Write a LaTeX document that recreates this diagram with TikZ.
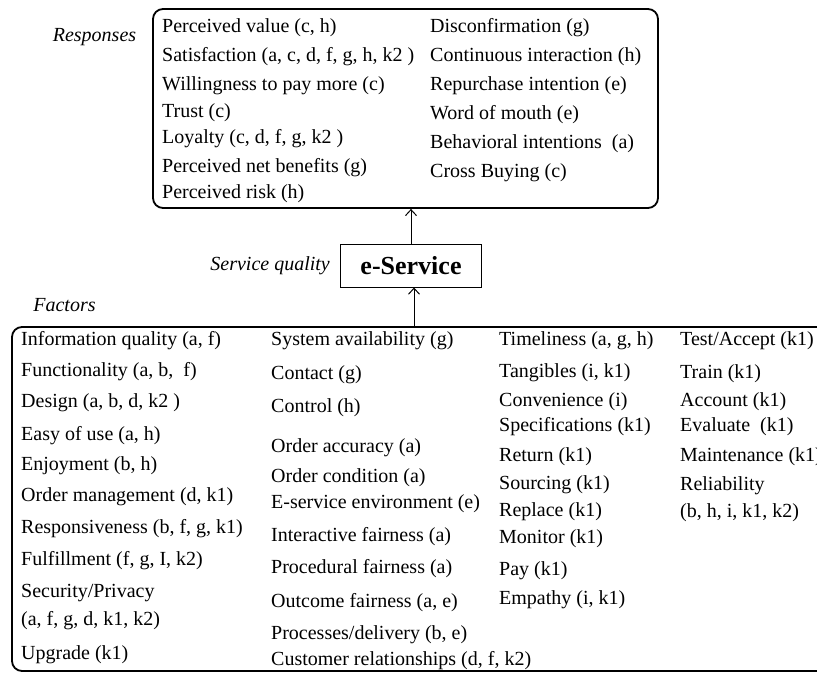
\documentclass[tikz,border=0pt]{standalone}
\usepackage{fontspec}
\setmainfont{Liberation Serif}
\usetikzlibrary{arrows.meta,positioning}
\tikzset{
  item/.style={anchor=west,inner sep=0pt,text height=14pt,text depth=4pt,font=\fontsize{20}{24}\selectfont},
  lbl/.style={inner sep=0pt,font=\fontsize{20}{24}\selectfont\itshape},
  group/.style={draw,line width=1.8pt,rounded corners=10pt,inner sep=0pt},
  up/.style={line width=1pt,-{Straight Barb[length=6pt,width=11pt]}}
}

\begin{document}
\begin{tikzpicture}[x=1pt,y=-1pt]
  \useasboundingbox (0,0) rectangle (817,674);
  \clip (0,0) rectangle (817,674);
% the two groups and the centre box
  \node[group,minimum width=505pt,minimum height=199pt] (responses) at (405.5,108.5) {};
  \node[group,minimum width=820pt,minimum height=344pt] (factors) at (422,499) {};
  \node[draw,line width=1pt,minimum width=141pt,minimum height=43pt,inner sep=0pt,
        font=\fontsize{26}{30}\selectfont\bfseries] (eservice) at (411,265.5) {e-Service};
  \draw[up] (eservice.north) -- (eservice.north |- responses.south);
  \draw[up] ([xshift=3pt]eservice.south |- factors.north) -- ([xshift=3pt]eservice.south);
% side labels
  \node[lbl] (resplabel) at (94.5,37) {Responses};
  \node[lbl,left=10pt of eservice] (sqlabel) {Service quality};
  \node[lbl] (factlabel) at (64.5,305) {Factors};
% Responses
  \foreach \y/\t [count=\i] in {28/{Perceived value (c, h)},57/{Satisfaction (a, c, d, f, g, h, k2 )},
      86/{Willingness to pay more (c)},113/{Trust (c)},139/{Loyalty (c, d, f, g, k2 )},
      167/{Perceived net benefits (g)},194/{Perceived risk (h)}}
    \node[item] (ra-\i) at (162,\y) {\t};
  \foreach \y/\t [count=\i] in {28/{Disconfirmation (g)},57/{Continuous interaction (h)},
      86/{Repurchase intention (e)},115/{Word of mouth (e)},144/{Behavioral intentions~ (a)},
      173/{Cross Buying (c)}}
    \node[item] (rb-\i) at (430,\y) {\t};
% Factors
  \foreach \y/\t [count=\i] in {340/{Information quality (a, f)},371/{Functionality (a, b,~ f)},
      402/{Design (a, b, d, k2 )},435/{Easy of use (a, h)},465/{Enjoyment (b, h)},
      496/{Order management (d, k1)},528/{Responsiveness (b, f, g, k1)},560/{Fulfillment (f, g, I, k2)},
      592/{Security/Privacy},620/{(a, f, g, d, k1, k2)},654/{Upgrade (k1)}}
    \node[item] (fa-\i) at (21,\y) {\t};
  \foreach \y/\t [count=\i] in {340/{System availability (g)},374/{Contact (g)},407/{Control (h)},
      447/{Order accuracy (a)},477/{Order condition (a)},503/{E-service environment (e)},
      536/{Interactive fairness (a)},568/{Procedural fairness (a)},602/{Outcome fairness (a, e)},
      634/{Processes/delivery (b, e)},660/{Customer relationships (d, f, k2)}}
    \node[item] (fb-\i) at (271,\y) {\t};
  \foreach \y/\t [count=\i] in {340/{Timeliness (a, g, h)},372/{Tangibles (i, k1)},401/{Convenience (i)},
      426/{Specifications (k1)},456/{Return (k1)},484/{Sourcing (k1)},511/{Replace (k1)},
      538/{Monitor (k1)},570/{Pay (k1)},599/{Empathy (i, k1)}}
    \node[item] (fc-\i) at (499,\y) {\t};
  \foreach \y/\t [count=\i] in {340/{Test/Accept (k1)},373/{Train (k1)},401/{Account (k1)},
      426/{Evaluate~ (k1)},456/{Maintenance (k1)},485/{Reliability},512/{(b, h, i, k1, k2)}}
    \node[item] (fd-\i) at (680,\y) {\t};
\end{tikzpicture}
\end{document}
